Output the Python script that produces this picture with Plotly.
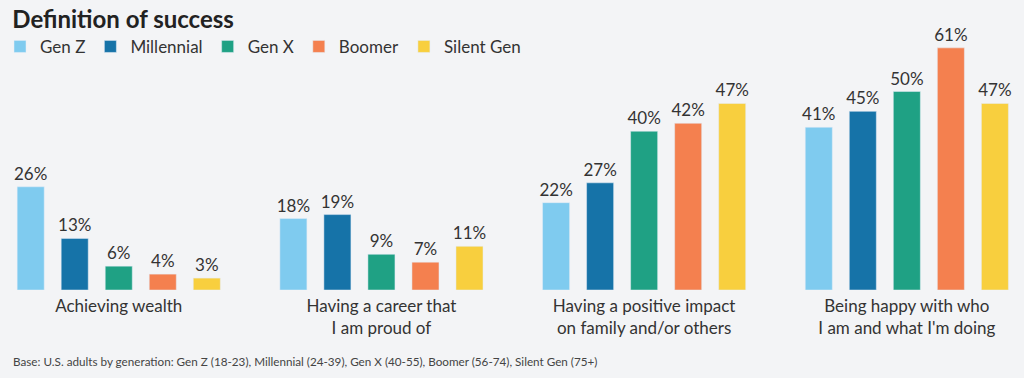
import plotly.graph_objects as go

categories = ["Achieving wealth", "Having a career that<br>I am proud of",
              "Having a positive impact<br>on family and/or others",
              "Being happy with who<br>I am and what I'm doing"]
gen_z = [26, 18, 22, 41]
millennial = [13, 19, 27, 45]
gen_x = [6, 9, 40, 50]
boomer = [4, 7, 42, 61]
silent_gen = [3, 11, 47, 47]

series = [("Gen Z", gen_z, "#7fcbef"),
          ("Millennial", millennial, "#1673a8"),
          ("Gen X", gen_x, "#1fa184"),
          ("Boomer", boomer, "#f4804f"),
          ("Silent Gen", silent_gen, "#f8cf3e")]

FONT = "Lato, 'Open Sans', sans-serif"
TXT = "#333333"

fig = go.Figure()
for name, vals, col in series:
    fig.add_trace(go.Bar(
        x=categories, y=vals, name=name, marker_color=col,
        text=[f"{v}%" for v in vals], textposition="outside",
        textfont=dict(size=17, color=TXT, family=FONT),
        constraintext="none", cliponaxis=False,
    ))

fig.update_layout(
    width=1024, height=378,
    paper_bgcolor="#f3f4f6", plot_bgcolor="#f3f4f6",
    margin=dict(l=0, r=0, t=30, b=88),
    barmode="group", bargap=0.162, bargroupgap=0.386,
    font=dict(family=FONT, color=TXT),
    title=dict(text="<b>Definition of success</b>", x=0.012, xanchor="left",
               y=0.947, yanchor="middle",
               font=dict(size=24, color="#222222", family=FONT)),
    legend=dict(orientation="h", x=0.0, y=0.935, xanchor="left", yanchor="middle",
                font=dict(size=17, color=TXT, family=FONT), bgcolor="rgba(0,0,0,0)",
                itemclick=False),
    xaxis=dict(range=[-0.452, 3.446], showgrid=False, showline=False, ticks="",
               tickfont=dict(size=17, color=TXT, family=FONT), fixedrange=True,
               ticklabelstandoff=4),
    yaxis=dict(range=[0, 65.5], visible=False, showgrid=False, zeroline=False, fixedrange=True),
    annotations=[dict(text="Base: U.S. adults by generation: Gen Z (18-23), Millennial (24-39), Gen X (40-55), Boomer (56-74), Silent Gen (75+)",
                      xref="paper", yref="paper", x=0.011, y=-0.273, xanchor="left", yanchor="middle",
                      showarrow=False, font=dict(size=11.7, color="#444444", family=FONT))],
)

fig.write_html("out.html", config={"displayModeBar": False},
               post_script="document.body.style.margin='0';document.body.style.overflow='hidden';")
